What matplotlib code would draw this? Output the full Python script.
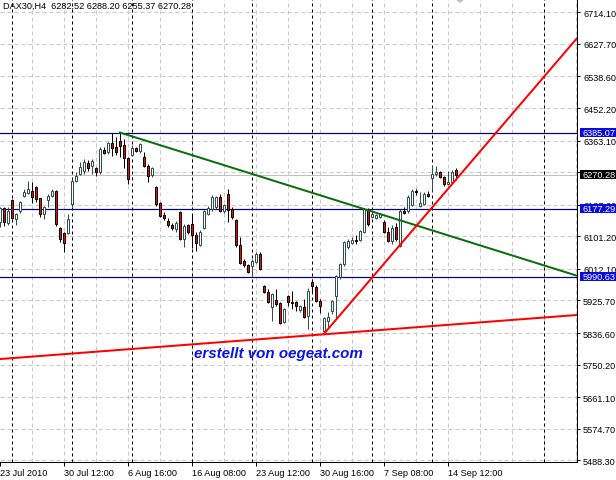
import matplotlib
matplotlib.use("Agg")
import matplotlib.pyplot as plt
from matplotlib.patches import Rectangle, Polygon
from matplotlib.transforms import blended_transform_factory, IdentityTransform

# -----------------------------
# Data (one entry per 4h bar, 23 Jul .. 15 Sep 2010)
# -----------------------------
opens = [6140, 6179, 6138, 6201, 6149, 6170, 6211, 6220, 6225, 6236,
         6206, 6162, 6201, 6211, 6225, 6124, 6110, 6110, 6190, 6252,
         6272, 6280, 6302, 6294, 6288, 6277, 6337, 6332, 6356, 6346,
         6362, 6351, 6315, 6324, 6343, 6335, 6318, 6294, 6269, 6236,
         6192, 6160, 6143, 6132, 6121, 6168, 6094, 6132, 6135, 6105,
         6077, 6124, 6162, 6176, 6181, 6209, 6170, 6217, 6176, 6146,
         6077, 6034, 6023, 6020, 6031, 6053, 5965, 5949, 5908, 5927,
         5919, 5867, 5938, 5922, 5922, 5900, 5908, 5883, 5976, 5963,
         5924, 5842, 5870, 5897, 5938, 5990, 6026, 6072, 6083, 6091,
         6091, 6113, 6176, 6155, 6151, 6155, 6140, 6113, 6088, 6127,
         6075, 6171, 6171, 6187, 6225, 6184, 6190, 6217, 6261, 6272,
         6277, 6263, 6244, 6250, 6282.52]
highs = [6181, 6181, 6181, 6203, 6165, 6197, 6231, 6252, 6250, 6239,
         6207, 6183, 6217, 6231, 6227, 6127, 6113, 6162, 6258, 6277,
         6304, 6313, 6310, 6313, 6291, 6346, 6346, 6359, 6384, 6373,
         6385.07, 6367, 6318, 6351, 6346, 6356, 6332, 6299, 6291, 6239,
         6195, 6168, 6151, 6138, 6143, 6170, 6135, 6135, 6162, 6113,
         6118, 6172, 6184, 6214, 6211, 6217, 6190, 6231, 6181, 6149,
         6099, 6039, 6025, 6039, 6058, 6058, 5968, 5957, 5946, 5957,
         5922, 5905, 5941, 5952, 5924, 5913, 5930, 5960, 5984, 5968,
         5930, 5880, 5894, 5927, 5995, 6028, 6088, 6094, 6099, 6105,
         6119, 6179, 6179, 6169, 6162, 6165, 6146, 6127, 6132, 6138,
         6176, 6181, 6214, 6231, 6231, 6222, 6222, 6225, 6296, 6294,
         6280, 6266, 6280, 6283, 6288.20]
lows = [6127, 6129, 6132, 6149, 6132, 6165, 6209, 6217, 6192, 6195,
        6155, 6149, 6181, 6210, 6129, 6086, 6058, 6108, 6181, 6250,
        6269, 6272, 6280, 6272, 6266, 6272, 6326, 6326, 6321, 6324,
        6318, 6288, 6244, 6321, 6332, 6329, 6291, 6250, 6263, 6184,
        6153, 6146, 6127, 6118, 6113, 6091, 6072, 6108, 6069, 6061,
        6075, 6121, 6160, 6170, 6176, 6168, 6165, 6140, 6149, 6072,
        6025, 6017, 6001, 5993, 6028, 6009, 5946, 5919, 5870, 5911,
        5861, 5864, 5911, 5902, 5897, 5894, 5878, 5848, 5949, 5921,
        5891, 5834, 5853, 5889, 5875, 5984, 6020, 6067, 6080, 6080,
        6088, 6110, 6129, 6151, 6149, 6151, 6110, 6086, 6080, 6088,
        6072, 6162, 6165, 6184, 6214, 6181, 6187, 6209, 6225, 6266,
        6261, 6239, 6242, 6247, 6255.37]
closes = [6179, 6140, 6170, 6151, 6162, 6195, 6222, 6231, 6209, 6203,
          6162, 6181, 6211, 6225, 6135, 6094, 6083, 6149, 6252, 6266,
          6291, 6304, 6288, 6307, 6277, 6340, 6329, 6356, 6343, 6332,
          6348, 6315, 6258, 6343, 6335, 6354, 6294, 6266, 6288, 6190,
          6156, 6151, 6132, 6124, 6138, 6094, 6129, 6113, 6105, 6083,
          6113, 6170, 6179, 6209, 6209, 6170, 6187, 6173, 6154, 6077,
          6028, 6023, 6004, 6034, 6053, 6012, 5949, 5922, 5943, 5916,
          5864, 5902, 5922, 5920, 5911, 5911, 5881, 5952, 5965, 5924,
          5911, 5878, 5881, 5924, 5993, 6026, 6086, 6088, 6091, 6088,
          6116, 6176, 6135, 6162, 6160, 6162, 6113, 6088, 6124, 6094,
          6171, 6165, 6209, 6225, 6222, 6192, 6217, 6211, 6272, 6277,
          6263, 6244, 6250, 6277, 6270.28]

time_labels = ['23 Jul 2010', '30 Jul 12:00', '6 Aug 16:00', '16 Aug 08:00',
               '23 Aug 12:00', '30 Aug 16:00', '7 Sep 08:00', '14 Sep 12:00']
week_starts = [3, 18, 33, 48, 63, 78, 93, 108, 136]   # period separators (bar index)

price_ticks = [6714.10, 6627.70, 6538.60, 6452.20, 6363.10, 6276.70, 6187.60,
               6101.20, 6012.10, 5925.70, 5836.60, 5750.20, 5661.10, 5574.70, 5488.30]
levels = [6385.07, 6177.29, 5990.63]
last_price = 6270.28
header = 'DAX30,H4  6282.52 6288.20 6255.37 6270.28'

# trendlines as two anchor points (bar index, price)
green_line = [(30, 6385.07), (144.3, 5993.4)]
red_support = [(0, 5765.4), (144.3, 5885.9)]
red_steep = [(81, 5834.0), (144.3, 6643.0)]

# -----------------------------
# Figure / axes, laid out in pixels like the MT4 window
# -----------------------------
plt.rcParams['font.family'] = ['Liberation Sans', 'DejaVu Sans']
plt.rcParams['lines.scale_dashes'] = False
PX = 0.72  # one pixel in points at dpi 100
FS = 6.6   # small MT4 font

fig = plt.figure(figsize=(6.16, 4.81), dpi=100)
ax = fig.add_axes([0, 18 / 481, 577 / 616, 463 / 481])
ax.set_xlim(0.075, 144.325)
ax.set_ylim(5483.7, 6750.5)
ypx = (6750.5 - 5483.7) / 463

grid_dash = (4 * PX, 3 * PX)
for v in price_ticks:
    ax.axhline(v, color='#C8C8C8', lw=PX, dashes=grid_dash, zorder=1)
for k in range(8, 145, 8):
    ax.axvline(k, color='#C8C8C8', lw=PX, dashes=grid_dash, zorder=1)
for k in week_starts:
    ax.axvline(k, color='black', lw=PX, dashes=(3 * PX, 3 * PX), zorder=1.5)

for v in levels:
    ax.axhline(v, color='#000080', lw=PX * 1.2, zorder=2)
ax.axhline(last_price, color='#C0C0C0', lw=PX, zorder=2)

# candles
for i, (o, h, l, c) in enumerate(zip(opens, highs, lows, closes)):
    bull = c >= o
    edge = '#2F4F4F' if bull else 'black'
    ax.vlines(i, l, h, color=edge, lw=PX, zorder=3)
    if abs(c - o) < 0.5:
        ax.hlines(o, i - 0.3, i + 0.3, color=edge, lw=PX, zorder=3.2)
    else:
        ax.add_patch(Rectangle((i - 0.25, min(o, c)), 0.5, abs(c - o),
                               fc='white' if bull else '#FF0000', ec=edge,
                               lw=PX, zorder=3.1))


def ray(pts, x0, x1):
    (a, pa), (b, pb) = pts
    s = (pb - pa) / (b - a)
    return [x0, x1], [pa + s * (x0 - a), pa + s * (x1 - a)]


xs, ys = ray(green_line, 30, 150)
ax.plot(xs, ys, color='#0A6E0A', lw=2 * PX, zorder=4)
xs, ys = ray(red_support, -5, 150)
ax.plot(xs, ys, color='#FF0000', lw=2 * PX, zorder=4)
xs, ys = ray(red_steep, 81, 150)
ax.plot(xs, ys, color='#FF0000', lw=2 * PX, zorder=4)

# -----------------------------
# Axes decoration
# -----------------------------
for s in ['top', 'left']:
    ax.spines[s].set_visible(False)
for s in ['right', 'bottom']:
    ax.spines[s].set_linewidth(PX)
    ax.spines[s].set_zorder(6)

ax.yaxis.tick_right()
ax.set_yticks(price_ticks)
ax.set_yticklabels([f'{v:.2f}' for v in price_ticks])
ax.tick_params(axis='y', direction='out', length=3 * PX, width=PX, pad=3 * PX,
               labelsize=FS)
ax.set_xticks([16 * i for i in range(len(time_labels))])
ax.set_xticklabels(time_labels)
for lbl in ax.get_xticklabels():
    lbl.set_ha('left')
ax.tick_params(axis='x', direction='out', length=4 * PX, width=PX, pad=1.5,
               labelsize=FS)

# price boxes on the right scale
trans = blended_transform_factory(ax.transAxes, ax.transData)
boxes = [(v, '#0A0ADC') for v in levels] + [(last_price, 'black')]
for v, col in boxes:
    ax.add_patch(Rectangle((1 + 2.5 / 577, v - 4.5 * ypx), 45 / 577, 9 * ypx,
                           transform=trans, fc=col, ec='none', clip_on=False,
                           zorder=8))
    ax.text(1 + 5.5 / 577, v, f'{v:.2f}', transform=trans, ha='left',
            va='center', color='white', fontsize=FS, zorder=9, clip_on=False)

ax.text(3 / 577, 1 - 6.5 / 463, header, transform=ax.transAxes, ha='left',
        va='center', fontsize=FS, color='black', zorder=9)
ax.text(194 / 577, (463 - 354) / 463, 'erstellt von oegeat.com',
        transform=ax.transAxes, ha='left', va='center', fontsize=10.9,
        fontweight='bold', fontstyle='italic', color='#0A14E8', zorder=9)

# chart shift marker at the top
fig.patches.append(Polygon([[455, 481], [465, 481], [460, 477]], closed=True,
                           transform=IdentityTransform(), fc='#C0C0C0',
                           ec='none', figure=fig))

fig.savefig('out.png', dpi=100, facecolor='white')
